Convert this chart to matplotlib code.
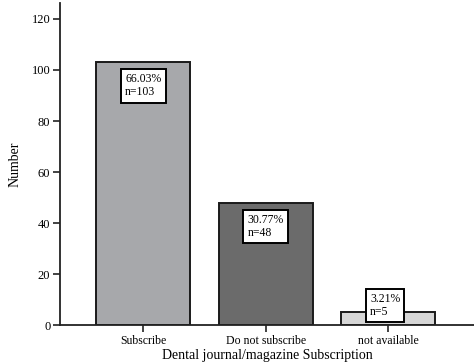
import matplotlib.pyplot as plt

# data
categories = ['Subscribe', 'Do not subscribe', 'not available']
counts = [103, 48, 5]
percents = ['66.03%', '30.77%', '3.21%']
colors = ['#a7a8ab', '#6b6b6b', '#d6d6d6']

plt.rcParams['font.family'] = 'Liberation Serif'

fig = plt.figure(figsize=(4.74, 3.64), dpi=100)
ax = fig.add_axes([0.1266, 0.107, 0.8734, 0.885])

x = range(len(categories))
width = 0.77
ax.bar(x, counts, width=width, color=colors, edgecolor='#1a1a1a', linewidth=1.4)

# label boxes near the top of each bar (pushed up when the bar is short)
for i, (c, p) in enumerate(zip(counts, percents)):
    top = max(c - 2.8, 14.0)
    ax.annotate(p + '\n' + 'n=' + str(c), xy=(i - width / 2, top),
                xytext=(29, -4), textcoords='offset pixels',
                ha='left', va='top', fontsize=8.5, linespacing=1.1,
                bbox=dict(boxstyle='square,pad=0.35', fc='white', ec='black', lw=1.4))

ax.set_xlim(-0.68, 2.70)
ax.set_ylim(0, 126.3)
ax.set_yticks([0, 20, 40, 60, 80, 100, 120])
ax.set_xticks(list(x))
ax.set_xticklabels(categories, fontsize=8.5)
ax.tick_params(axis='y', labelsize=9, length=5, width=1.2, color='#222222', pad=2)
ax.tick_params(axis='x', length=5, width=1.2, color='#222222', pad=2)

for s in ['top', 'right']:
    ax.spines[s].set_visible(False)
for s in ['left', 'bottom']:
    ax.spines[s].set_linewidth(1.3)
    ax.spines[s].set_color('#222222')

ax.set_ylabel('Number', fontsize=10)
ax.yaxis.set_label_coords(-0.094, 0.5)
ax.set_xlabel('Dental journal/magazine Subscription', fontsize=10)
ax.xaxis.set_label_coords(0.5, -0.075)

fig.savefig('out.png', dpi=100)
